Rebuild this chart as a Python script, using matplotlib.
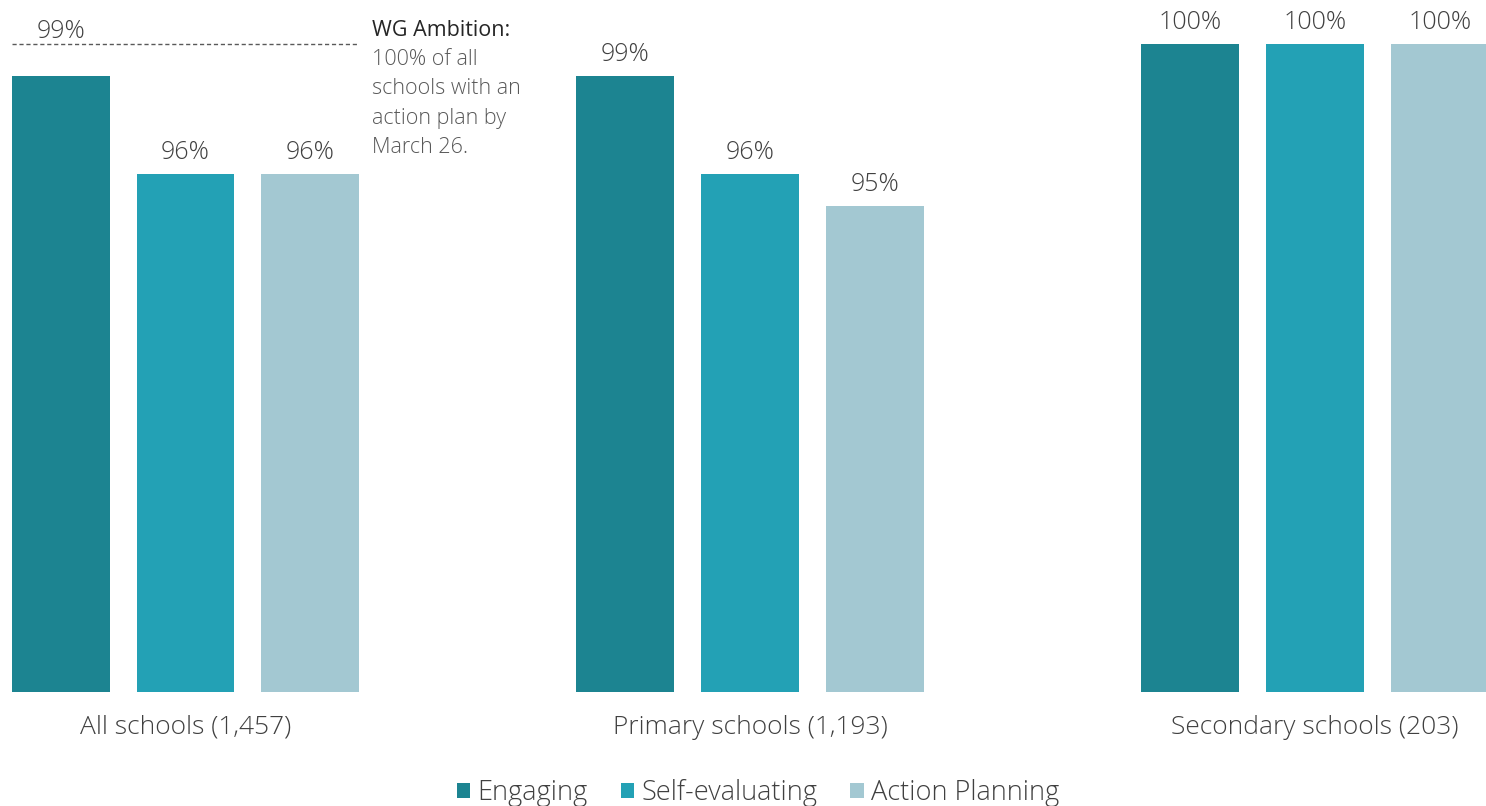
import matplotlib
matplotlib.use("Agg")
import matplotlib.pyplot as plt
from matplotlib.patches import Patch
from matplotlib import font_manager
import numpy as np

groups = ["All schools (1,457)", "Primary schools (1,193)", "Secondary schools (203)"]
series = ["Engaging", "Self-evaluating", "Action Planning"]
engaging = [99, 99, 100]
self_evaluating = [96, 96, 100]
action_planning = [96, 95, 100]
ambition_value = 100
ambition_title = "WG Ambition"
ambition_text = "100% of all\nschools with an\naction plan by\nMarch 26."

colors = ["#1c8491", "#23a1b5", "#a3c8d2"]
text_color = "#404040"

names = {f.name for f in font_manager.fontManager.ttflist}
family = "Open Sans" if "Open Sans" in names else "DejaVu Sans"
plt.rcParams["font.family"] = [family, "DejaVu Sans"]
plt.rcParams["font.weight"] = "light"

fig = plt.figure(figsize=(14.86, 8.06), dpi=100)
ax = fig.add_axes([0.0, 114 / 806, 1.0, 692 / 806])

x = np.arange(len(groups))
width = 0.1735
step = 0.2213
values = [engaging, self_evaluating, action_planning]

for i, (vals, col) in enumerate(zip(values, colors)):
    pos = x + (i - 1) * step
    ax.bar(pos, vals, width=width, color=col, bottom=0, zorder=2)
    for g, (px, v) in enumerate(zip(pos, vals)):
        ly, off = v, 15.5
        # label of the bar right under the ambition line sits just above it
        if g == 0 and ambition_value - v < 1.5:
            ly, off = ambition_value, 9
        ax.annotate(f"{v}%", (px, ly), xytext=(0, off), textcoords="offset points",
                    ha="center", va="center", fontsize=18, color=text_color,
                    fontweight="light")

# ambition line across the first group
x0 = x[0] - step - width / 2
x1 = x[0] + step + width / 2
ax.plot([x0, x1], [ambition_value, ambition_value], color="#595959", lw=1,
        ls=(0, (3, 2)), zorder=3)
ax.annotate(ambition_title + ":", (x1, ambition_value), xytext=(9, 10),
            textcoords="offset points", ha="left", va="center", fontsize=15.5,
            color="#262626", fontweight="normal")
ax.annotate(ambition_text, (x1, ambition_value), xytext=(9, -3.7),
            textcoords="offset points", ha="left", va="top", fontsize=15.5,
            color="#595959", fontweight="light", linespacing=1.52)

ax.set_xlim(-185.5 / 564.75, (1486 - 185.5) / 564.75)
ax.set_ylim(80, 100 + 44 / 32.4)
ax.set_xticks(x, groups)
ax.tick_params(axis="x", length=0, pad=16.5, labelsize=19, labelcolor=text_color)
ax.set_yticks([])
for s in ax.spines.values():
    s.set_visible(False)

handles = [Patch(facecolor=c, edgecolor="none") for c in colors]
fig.legend(handles, series, loc="center", bbox_to_anchor=(758 / 1486, 1 - 793 / 806),
           ncol=3, frameon=False, fontsize=19.5, handlelength=0.5, handleheight=0.5,
           handletextpad=0.27, columnspacing=1.21, labelcolor=text_color)

fig.savefig("out.png", dpi=100)
